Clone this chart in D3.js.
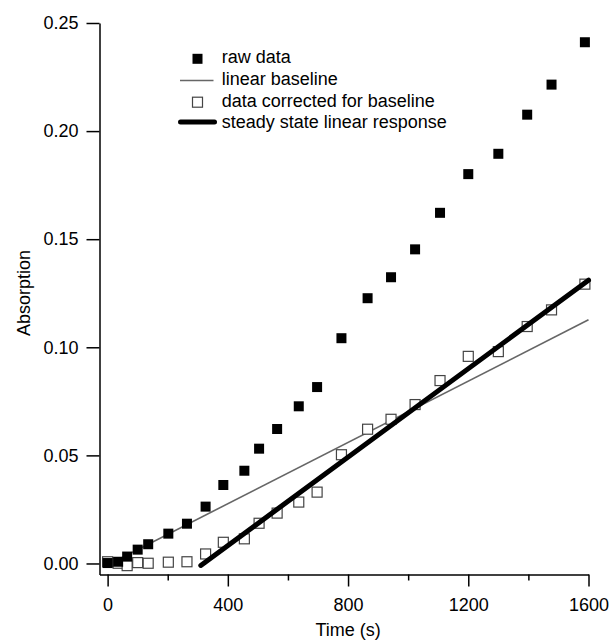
<!doctype html>
<html>
<head>
<script src="https://cdnjs.cloudflare.com/ajax/libs/d3/7.8.5/d3.min.js"></script>
<style>
body { margin: 0; background: #fff; }
text { font-family: "Liberation Sans", Arial, sans-serif; font-size: 18px; fill: #000; }
.axis path, .axis line { stroke: #000; stroke-width: 1.5px; }
</style>
</head>
<body>
<svg id="chart" width="611" height="641"></svg>
<script>
// times (s)
var times = [0, 35, 65, 100, 135, 202, 264, 326, 385, 455, 504, 564, 636, 697, 778, 865, 943, 1023, 1106, 1200, 1300, 1396, 1477, 1588];
var rawData = [0.0002, 0.0008, 0.0032, 0.0064, 0.0089, 0.0138, 0.0184, 0.0263, 0.0363, 0.0429, 0.0531, 0.0622, 0.0727, 0.0816,
               0.1042, 0.1227, 0.1324, 0.1453, 0.1622, 0.1801, 0.1895, 0.2076, 0.2215, 0.2411];
var corrected = [0.0008, 0.0001, -0.0010, 0.0004, 0.0001, 0.0006, 0.0008, 0.0044, 0.0098, 0.0114, 0.0186, 0.0233, 0.0284, 0.0330,
                 0.0503, 0.0621, 0.0667, 0.0735, 0.0846, 0.0958, 0.0980, 0.1096, 0.1173, 0.1292];
var baselineX = [0, 1600];
var baselineY = [-0.0007, 0.1127];
var steadyX = [310, 1600];
var steadyY = [-0.0009, 0.1310];
var xMajor = [0, 400, 800, 1200, 1600];
var xMinor = [200, 600, 1000, 1400];
var yTicks = [0, 0.05, 0.10, 0.15, 0.20, 0.25];
var legendLabels = ["raw data", "linear baseline", "data corrected for baseline", "steady state linear response"];

var svg = d3.select("#chart");
var x = d3.scaleLinear().domain([-27, 1600]).range([99.5, 588.5]);
var y = d3.scaleLinear().domain([-0.0051, 0.25]).range([574.5, 23]);

// axes
svg.append("g")
  .attr("class", "axis")
  .attr("transform", "translate(0,574.5)")
  .call(d3.axisBottom(x).tickValues(xMinor).tickSize(6).tickSizeOuter(0).tickFormat(""))
  .select(".domain").remove();

svg.append("g")
  .attr("class", "axis")
  .attr("transform", "translate(0,574.5)")
  .call(d3.axisBottom(x).tickValues(xMajor).tickSize(12).tickPadding(12).tickSizeOuter(0).tickFormat(d3.format("d")))
  .style("font-size", "18px")
  .style("font-family", "Liberation Sans, Arial, sans-serif");

svg.append("g")
  .attr("class", "axis")
  .attr("transform", "translate(99.5,0)")
  .call(d3.axisLeft(y).tickValues(yTicks).tickSize(13).tickPadding(8).tickSizeOuter(0).tickFormat(d3.format(".2f")))
  .style("font-size", "18px")
  .style("font-family", "Liberation Sans, Arial, sans-serif");

svg.append("text")
  .attr("x", x(800))
  .attr("y", 636)
  .attr("text-anchor", "middle")
  .text("Time (s)");

svg.append("text")
  .attr("transform", "translate(30,293) rotate(-90)")
  .attr("text-anchor", "middle")
  .text("Absorption");

// lines
var line = d3.line().x(d => x(d[0])).y(d => y(d[1]));

svg.append("path")
  .datum(d3.zip(baselineX, baselineY))
  .attr("d", line)
  .attr("fill", "none")
  .attr("stroke", "#666")
  .attr("stroke-width", 1.6);

// points
var sq = 10;
svg.append("g")
  .selectAll("rect")
  .data(d3.zip(times, corrected))
  .enter()
  .append("rect")
  .attr("x", d => x(d[0]) - sq / 2)
  .attr("y", d => y(d[1]) - sq / 2)
  .attr("width", sq)
  .attr("height", sq)
  .attr("fill", "#fff")
  .attr("stroke", "#444")
  .attr("stroke-width", 1.2);

svg.append("g")
  .selectAll("rect")
  .data(d3.zip(times, rawData))
  .enter()
  .append("rect")
  .attr("x", d => x(d[0]) - sq / 2)
  .attr("y", d => y(d[1]) - sq / 2)
  .attr("width", sq)
  .attr("height", sq)
  .attr("fill", "#000");

svg.append("path")
  .datum(d3.zip(steadyX, steadyY))
  .attr("d", line)
  .attr("fill", "none")
  .attr("stroke", "#000")
  .attr("stroke-width", 5)
  .attr("stroke-linecap", "round");

// legend
var lg = svg.append("g").attr("transform", "translate(0,63.3)");
var rowH = 21.7;
lg.selectAll("text")
  .data(legendLabels)
  .enter()
  .append("text")
  .attr("x", 221.7)
  .attr("y", (d, i) => i * rowH)
  .text(d => d);

lg.append("rect").attr("x", 192.5).attr("y", -9.5).attr("width", sq).attr("height", sq).attr("fill", "#000");
lg.append("line").attr("x1", 180).attr("x2", 213.5).attr("y1", rowH - 4.5).attr("y2", rowH - 4.5)
  .attr("stroke", "#666").attr("stroke-width", 1.6);
lg.append("rect").attr("x", 192.5).attr("y", 2 * rowH - 9.5).attr("width", sq).attr("height", sq)
  .attr("fill", "#fff").attr("stroke", "#444").attr("stroke-width", 1.2);
lg.append("line").attr("x1", 180.5).attr("x2", 214.5).attr("y1", 3 * rowH - 6.5).attr("y2", 3 * rowH - 6.5)
  .attr("stroke", "#000").attr("stroke-width", 5).attr("stroke-linecap", "round");
</script>
</body>
</html>
